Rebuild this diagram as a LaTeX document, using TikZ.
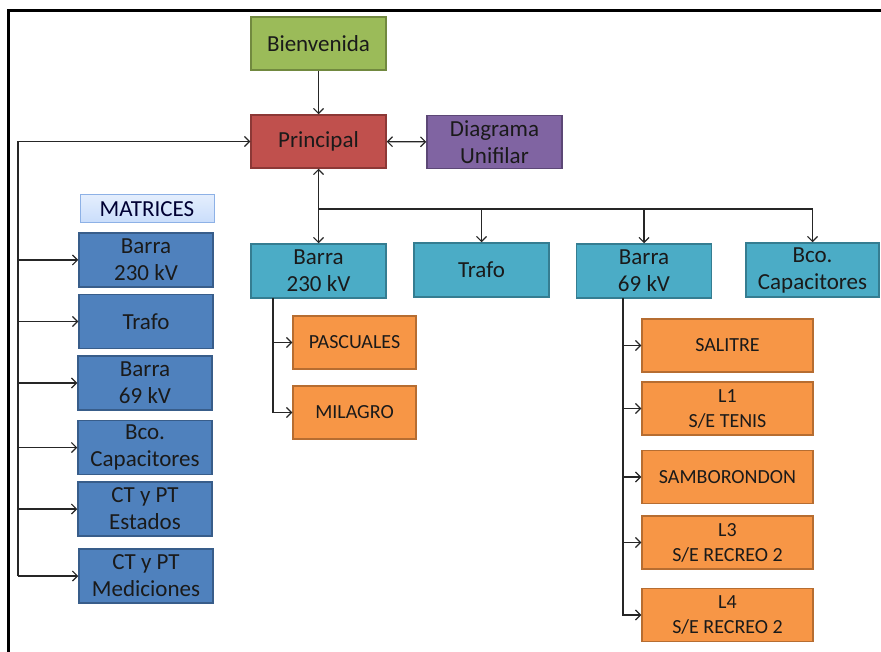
\documentclass[tikz,border=0pt]{standalone}
\usepackage{fontspec}
\setmainfont{Carlito}
\usetikzlibrary{arrows.meta}

\definecolor{verde}{HTML}{9BBB59}
\definecolor{verdeosc}{HTML}{71893F}
\definecolor{rojo}{HTML}{C0504D}
\definecolor{rojoosc}{HTML}{8C3836}
\definecolor{morado}{HTML}{8064A2}
\definecolor{moradoosc}{HTML}{5C4776}
\definecolor{cian}{HTML}{4BACC6}
\definecolor{cianosc}{HTML}{357D91}
\definecolor{azul}{HTML}{4F81BD}
\definecolor{azulosc}{HTML}{385D8A}
\definecolor{naranja}{HTML}{F79646}
\definecolor{naranjaosc}{HTML}{B66D31}
\definecolor{celeste}{HTML}{C9DDFB}
\definecolor{celesteosc}{HTML}{8DB1E6}
\definecolor{linea}{HTML}{262626}
\definecolor{texto}{HTML}{1A1A1A}

\begin{document}
\begin{tikzpicture}[x=1pt,y=-1pt]
    \useasboundingbox (0,0) rectangle (881,652);

    \tikzstyle{caja}=[draw,line width=1.5pt,inner sep=0pt,align=center,
        text=texto,minimum width=135pt,minimum height=53pt,
        font=\fontsize{23}{27}\selectfont]
    \tikzstyle{bien}=[caja,fill=verde,draw=verdeosc]
    \tikzstyle{princ}=[caja,fill=rojo,draw=rojoosc]
    \tikzstyle{diag}=[caja,fill=morado,draw=moradoosc]
    \tikzstyle{nivel}=[caja,fill=cian,draw=cianosc,minimum height=54pt]
    \tikzstyle{matriz}=[caja,fill=azul,draw=azulosc,minimum width=134pt,
        minimum height=54pt]
    \tikzstyle{sub}=[caja,fill=naranja,draw=naranjaosc,minimum width=123pt,
        font=\fontsize{20}{25}\selectfont]
    \tikzstyle{salida}=[sub,minimum width=171pt]
    \tikzstyle{conn}=[line width=1.1pt,color=linea,
        >={Straight Barb[length=5pt,width=10pt]}]

    %% Frame
    \draw [line width=3pt] (8,652) -- (8,11) -- (881,11);

    %% Top level
    \node [bien] (bien) at (318.5,43.5) {Bienvenida};
    \node [princ] (princ) at (318.5,141.5) {Principal};
    \node [diag] (diag) at (494.5,142) {Diagrama\\Unifilar};

    %% Matrices column
    \node [caja,top color=celeste!50!white,bottom color=celeste,
        draw=celesteosc,line width=1pt,minimum width=134pt,
        minimum height=28pt,text=black!80!blue] (mat) at (147,209) {MATRICES};
    \node [matriz] (m1) at (146,260) {Barra\\230 kV};
    \node [matriz] (m2) at (146,321.5) {Trafo};
    \node [matriz] (m3) at (145,383) {Barra\\69 kV};
    \node [matriz] (m4) at (145,447.5) {Bco.\\Capacitores};
    \node [matriz] (m5) at (145,509) {CT y PT\\Estados};
    \node [matriz] (m6) at (146,576) {CT y PT\\Mediciones};

    %% Second level
    \node [nivel] (b230) at (318.5,271) {Barra\\230 kV};
    \node [nivel] (trafo) at (481.5,270) {Trafo};
    \node [nivel] (b69) at (644,271) {Barra\\69 kV};
    \node [nivel,minimum width=133pt] (bco) at (812.5,270) {Bco.\\Capacitores};

    %% Lines of 230 kV
    \node [sub] (pasc) at (354.5,342.5) {PASCUALES};
    \node [sub] (mil) at (354.5,412.5) {MILAGRO};

    %% Lines of 69 kV
    \node [salida] (sal) at (727.5,345.5) {SALITRE};
    \node [salida] (l1) at (727.5,408.5) {L1\\S/E TENIS};
    \node [salida] (sam) at (727.5,477) {SAMBORONDON};
    \node [salida] (l3) at (727.5,542.5) {L3\\S/E RECREO 2};
    \node [salida] (l4) at (727.5,615) {L4\\S/E RECREO 2};

    \coordinate (izq) at (18,141.5);
    \coordinate (bus) at (318.5,209);
    \coordinate (r1) at (273,298);
    \coordinate (r2) at (623,298);

    %% Connectors
    \begin{scope}[conn]
        \draw [->] (bien) -- (princ);
        \draw [<->] (princ) -- (diag);
        \draw [<->] (princ) -- (b230);
        \draw [->] (bus) -| (trafo.north);
        \draw [->] (bus) -| (b69.north);
        \draw [->] (bus) -| (bco.north);

        \draw (izq |- m6.west) -- (izq);
        \draw [->] (izq) -- (princ.west);
        \foreach \m in {m1,m2,m3,m4,m5,m6}
            \draw [->] (izq |- \m.west) -- (\m.west);

        \draw [->] (r1) |- (mil.west);
        \draw [->] (r1 |- pasc.west) -- (pasc.west);

        \draw [->] (r2) |- (l4.west);
        \foreach \s in {sal,l1,sam,l3}
            \draw [->] (r2 |- \s.west) -- (\s.west);
    \end{scope}

\end{tikzpicture}
\end{document}
